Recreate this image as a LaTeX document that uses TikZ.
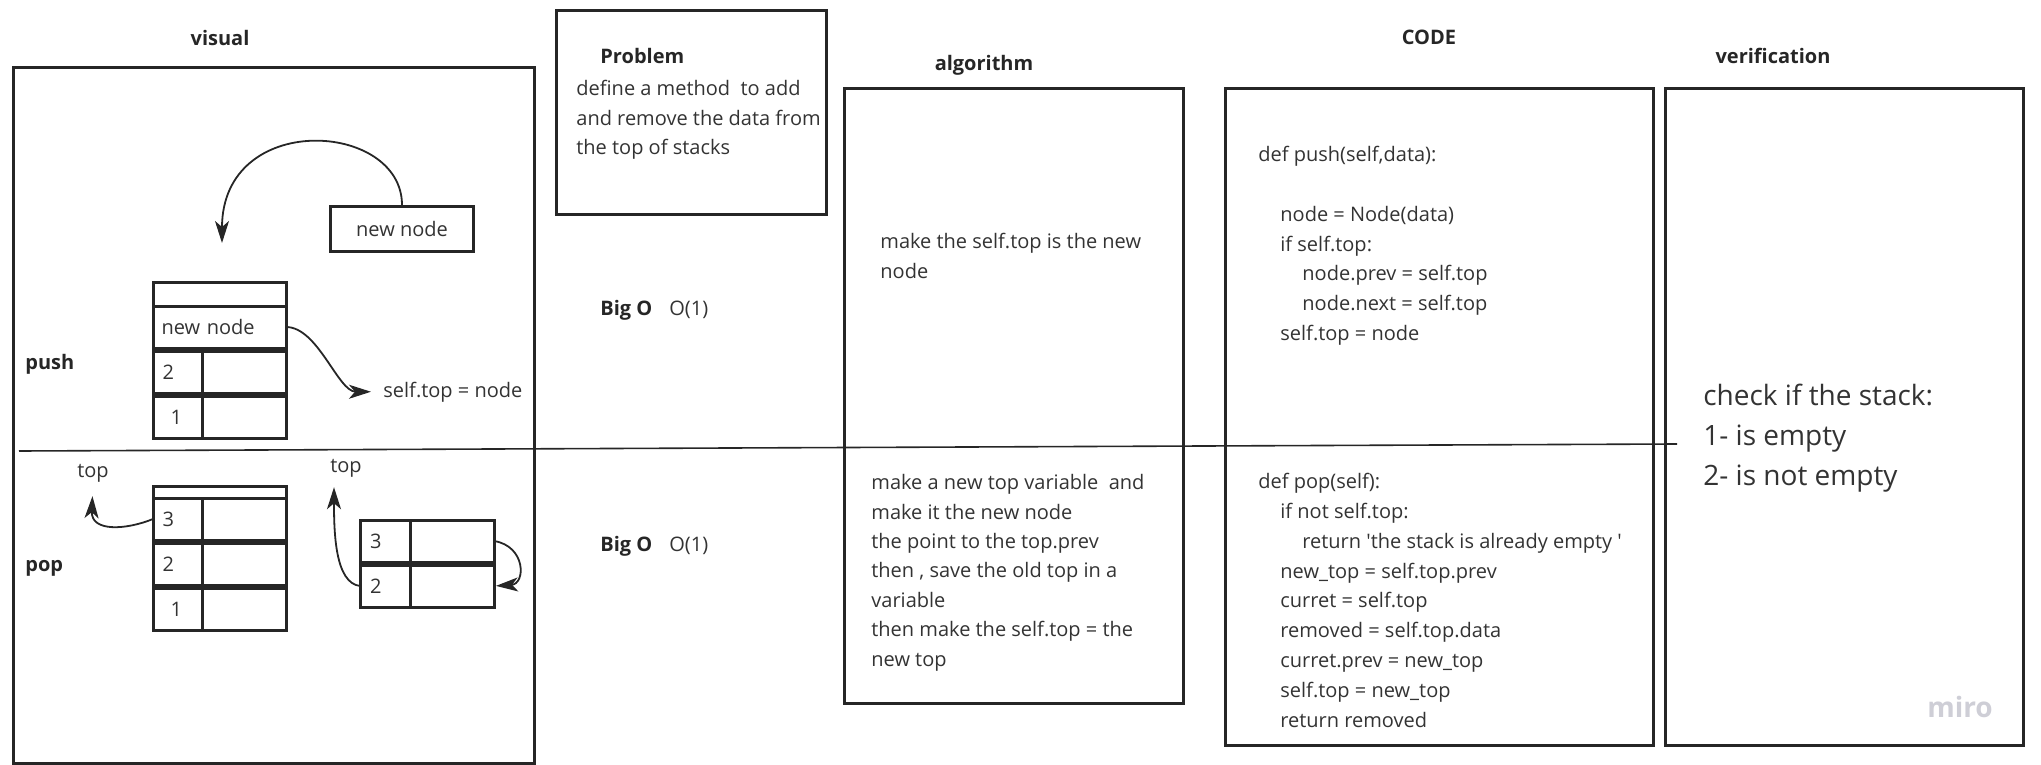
\documentclass[tikz,border=0pt]{standalone}
\usepackage{fontspec}
\setmainfont{Open Sans}
\usetikzlibrary{arrows.meta, positioning}
\definecolor{ink}{RGB}{38,38,38}
\definecolor{txt}{RGB}{51,51,51}
\definecolor{mirogray}{RGB}{206,206,214}

\begin{document}
\begin{tikzpicture}[
    x=0.5pt, y=-0.5pt, font=\fontsize{10}{14.7}\selectfont, text=txt,
    panelbox/.style={draw=ink, line width=1.5pt, inner sep=0pt, outer sep=0pt, anchor=north west},
    stackcell/.style={draw=ink, line width=1.5pt, inner sep=0pt, outer sep=0pt, minimum height=21pt, anchor=north west},
    keycell/.style={stackcell, minimum width=24.5pt, text width=15pt, align=left},
    valcell/.style={stackcell, minimum width=42pt},
    heading/.style={font=\fontsize{10}{12}\selectfont\bfseries, text=ink, inner sep=0pt, anchor=base},
    bodytext/.style={inner sep=0pt, align=left, anchor=north west},
    plain/.style={inner sep=0pt, anchor=base},
    arrowline/.style={draw=ink, line width=0.9pt, -{Stealth[length=11pt, width=7pt, inset=3pt]}}]

    \useasboundingbox (0,0) rectangle (2041,765);

    % Define panels
    \node[panelbox, minimum width=260.5pt, minimum height=347.5pt] (Vis) at (13,68) {};
    \node[panelbox, minimum width=135pt, minimum height=101.5pt] (Prob) at (556,11) {};
    \node[panelbox, minimum width=169.5pt, minimum height=307pt] (Alg) at (844,89) {};
    \node[panelbox, minimum width=214pt, minimum height=328pt] (Code) at (1225,89) {};
    \node[panelbox, minimum width=179pt, minimum height=328pt] (Ver) at (1665,89) {};

    % Headings
    \node[heading] (VisT) at (220,46) {visual};
    \node[heading, anchor=base west] (ProbT) at (600,64) {Problem};
    \node[heading] (AlgT) at (984,71) {algorithm};
    \node[heading] (CodeT) at (1429,45) {CODE};
    \node[heading] (VerT) at (1773,64) {verification};
    \node[heading, anchor=base west] (PushT) at (25,369) {push};
    \node[heading, anchor=base west] (PopT) at (25,571) {pop};

    % Problem and Big O
    \node[bodytext] (ProbX) at (576,80) {define a method\ \ to add\\and remove the data from\\the top of stacks};
    \node[heading, anchor=base west] (BigO1) at (600,315) {Big O};
    \node[plain, anchor=base west] (Ord1) at (669,315) {O(1)};
    \node[heading, anchor=base west] (BigO2) at (600,551) {Big O};
    \node[plain, anchor=base west] (Ord2) at (669,551) {O(1)};

    % Algorithm
    \node[bodytext] (AlgPush) at (880,233) {make the self.top is the new\\node};
    \node[bodytext] (AlgPop) at (871,474) {make a new top variable\ \ and\\make it the new node\\the point to the top.prev\\then , save the old top in a\\variable\\then make the self.top = the\\new top};

    % Code
    \node[bodytext, font=\fontsize{10}{14.9}\selectfont] (CodePush) at (1258,146) {def push(self,data):\\[14.9pt]
      \hspace*{11pt}node = Node(data)\\
      \hspace*{11pt}if self.top:\\
      \hspace*{22pt}node.prev = self.top\\
      \hspace*{22pt}node.next = self.top\\
      \hspace*{11pt}self.top = node};
    \node[bodytext, font=\fontsize{10}{14.9}\selectfont] (CodePop) at (1258,473) {def pop(self):\\
      \hspace*{11pt}if not self.top:\\
      \hspace*{22pt}return \textquotesingle the stack is already empty \textquotesingle\\
      \hspace*{11pt}new\_top = self.top.prev\\
      \hspace*{11pt}curret = self.top\\
      \hspace*{11pt}removed = self.top.data\\
      \hspace*{11pt}curret.prev = new\_top\\
      \hspace*{11pt}self.top = new\_top\\
      \hspace*{11pt}return removed};

    % Verification
    \node[bodytext, font=\fontsize{14}{20}\selectfont] (VerX) at (1703,384) {check if the stack:\\1- is empty\\2- is not empty};
    \node[inner sep=0pt, text=mirogray, font=\fontsize{14}{14}\selectfont\bfseries] (Miro) at (1960,707) {miro};

    % Push stack
    \node[draw=ink, line width=1.5pt, minimum width=71.5pt, minimum height=22.5pt, inner sep=0pt, anchor=north west] (New) at (329,205) {new node};
    \node[stackcell, minimum width=66.5pt, minimum height=12pt] (Ptop) at (153,282) {};
    \node[stackcell, minimum width=66.5pt, text width=58pt, align=left] (Pnew) at (153,306) {new node};
    \node[keycell] (P2k) at (153,351) {2};
    \node[valcell, right=0pt of P2k] (P2v) {};
    \node[keycell] (P1k) at (153,396) {\hspace*{4pt}1};
    \node[valcell, right=0pt of P1k] (P1v) {};
    \node[plain, anchor=base west] (SelfTop) at (383,397) {self.top = node};
    \coordinate (Drop) at (222,243);

    % Pop stacks
    \node[stackcell, minimum width=66.5pt, minimum height=6pt] (Qtop) at (153,486) {};
    \node[keycell] (Q3k) at (153,498) {3};
    \node[valcell, right=0pt of Q3k] (Q3v) {};
    \node[keycell] (Q2k) at (153,543) {2};
    \node[valcell, right=0pt of Q2k] (Q2v) {};
    \node[keycell] (Q1k) at (153,588) {\hspace*{4pt}1};
    \node[valcell, right=0pt of Q1k] (Q1v) {};
    \node[keycell, minimum width=25pt] (R3k) at (360,520) {3};
    \node[valcell, right=0pt of R3k] (R3v) {};
    \node[keycell, minimum width=25pt] (R2k) at (360,565) {2};
    \node[valcell, right=0pt of R2k] (R2v) {};
    \node[plain] (Top1) at (93,477) {top};
    \node[plain] (Top2) at (346,472) {top};

    % Divider
    \coordinate (DivL) at (19,451);
    \coordinate (DivR) at (1677,444);
    \draw[draw=ink, line width=0.8pt] (DivL) -- (DivR);

    % Draw arrows
    \draw[arrowline] (New.north) .. controls +(0,-84) and +(0,-133) .. (Drop);
    \draw[arrowline, shorten >=6pt] (Pnew.east) .. controls +(32,0) and +(-45,0) .. (SelfTop.west);
    \draw[arrowline, shorten >=7pt] (Q3k.west) .. controls +(-27,11) and +(-2,50) .. (Top1.south);
    \draw[arrowline, shorten >=5pt] (R2k.west) .. controls +(-25,-3) and +(0,55) .. ([xshift=-6pt]Top2.south);
    \draw[arrowline, shorten >=1pt] (R3v.east) .. controls +(32,5) and +(32,-2) .. (R2v.east);

\end{tikzpicture}
\end{document}
